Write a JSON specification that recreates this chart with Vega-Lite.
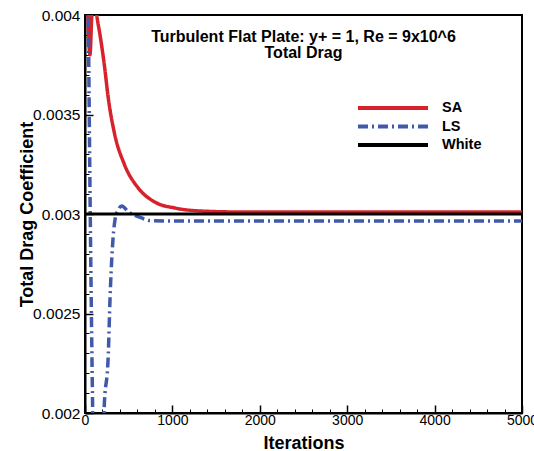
{
  "$schema": "https://vega.github.io/schema/vega-lite/v6.json",
  "width": 437,
  "height": 398,
  "autosize": {"type": "none"},
  "padding": {"left": 85, "top": 15, "right": 12, "bottom": 38},
  "background": "white",
  "config": {
    "view": {"stroke": "black", "strokeWidth": 2},
    "font": "Liberation Sans"
  },
  "title": {
    "text": ["Turbulent Flat Plate: y+ = 1, Re = 9x10^6", "Total Drag"],
    "font": "Liberation Sans",
    "fontSize": 16,
    "fontWeight": "bold",
    "lineHeight": 16,
    "anchor": "middle",
    "frame": "group",
    "baseline": "top",
    "offset": -37,
    "dy": 16,
    "color": "black"
  },
  "data": {
    "values": [
      {"series": "SA", "iter": 0, "cd": 0.005},
      {"series": "SA", "iter": 20, "cd": 0.0044},
      {"series": "SA", "iter": 35, "cd": 0.004},
      {"series": "SA", "iter": 57, "cd": 0.0038},
      {"series": "SA", "iter": 78, "cd": 0.004},
      {"series": "SA", "iter": 100, "cd": 0.00408},
      {"series": "SA", "iter": 118, "cd": 0.00407},
      {"series": "SA", "iter": 135, "cd": 0.004},
      {"series": "SA", "iter": 172, "cd": 0.0039},
      {"series": "SA", "iter": 221, "cd": 0.00375},
      {"series": "SA", "iter": 267, "cd": 0.00358},
      {"series": "SA", "iter": 335, "cd": 0.00341},
      {"series": "SA", "iter": 450, "cd": 0.00325},
      {"series": "SA", "iter": 610, "cd": 0.00313},
      {"series": "SA", "iter": 800, "cd": 0.00306},
      {"series": "SA", "iter": 1030, "cd": 0.00303},
      {"series": "SA", "iter": 1370, "cd": 0.003014},
      {"series": "SA", "iter": 1800, "cd": 0.00301},
      {"series": "SA", "iter": 3000, "cd": 0.00301},
      {"series": "SA", "iter": 5000, "cd": 0.00301},
      {"series": "LS", "iter": 0, "cd": 0.006},
      {"series": "LS", "iter": 20, "cd": 0.0049},
      {"series": "LS", "iter": 38, "cd": 0.004},
      {"series": "LS", "iter": 60, "cd": 0.003},
      {"series": "LS", "iter": 88, "cd": 0.002},
      {"series": "LS", "iter": 115, "cd": 0.0012},
      {"series": "LS", "iter": 150, "cd": 0.0009},
      {"series": "LS", "iter": 190, "cd": 0.0013},
      {"series": "LS", "iter": 217, "cd": 0.002},
      {"series": "LS", "iter": 267, "cd": 0.0023},
      {"series": "LS", "iter": 286, "cd": 0.00257},
      {"series": "LS", "iter": 312, "cd": 0.00282},
      {"series": "LS", "iter": 343, "cd": 0.00297},
      {"series": "LS", "iter": 380, "cd": 0.00302},
      {"series": "LS", "iter": 420, "cd": 0.00304},
      {"series": "LS", "iter": 500, "cd": 0.00301},
      {"series": "LS", "iter": 648, "cd": 0.00298},
      {"series": "LS", "iter": 740, "cd": 0.002967},
      {"series": "LS", "iter": 1000, "cd": 0.002965},
      {"series": "LS", "iter": 3000, "cd": 0.002965},
      {"series": "LS", "iter": 5000, "cd": 0.002965},
      {"series": "White", "iter": 0, "cd": 0.003},
      {"series": "White", "iter": 5000, "cd": 0.003}
    ]
  },
  "encoding": {
    "color": {
      "field": "series",
      "type": "nominal",
      "scale": {"domain": ["SA", "LS", "White"], "range": ["#d7222b", "#4059ab", "#000000"]},
      "legend": {
        "title": null,
        "orient": "none",
        "legendX": 299,
        "legendY": 84,
        "padding": 0,
        "symbolType": "M-5,0H5",
        "symbolSize": 196,
        "symbolStrokeWidth": 4,
        "labelFont": "Liberation Sans",
        "labelFontSize": 14.5,
        "labelFontWeight": "bold",
        "labelColor": "black",
        "labelOffset": 40,
        "rowPadding": 1.5
      }
    },
    "strokeDash": {
      "field": "series",
      "type": "nominal",
      "scale": {"domain": ["SA", "LS", "White"], "range": [[1, 0], [10, 4, 2, 4], [1, 0]]},
      "legend": {
        "title": null,
        "orient": "none",
        "legendX": 299,
        "legendY": 84,
        "padding": 0,
        "symbolType": "M-5,0H5",
        "symbolSize": 196,
        "symbolStrokeWidth": 4,
        "labelFont": "Liberation Sans",
        "labelFontSize": 14.5,
        "labelFontWeight": "bold",
        "labelColor": "black",
        "labelOffset": 40,
        "rowPadding": 1.5
      }
    }
  },
  "layer": [
    {
      "transform": [{"filter": "datum.series !== 'White'"}],
      "mark": {"type": "line", "clip": true, "strokeWidth": 3.5, "interpolate": "monotone"},
      "encoding": {
        "x": {
          "field": "iter",
          "type": "quantitative",
          "scale": {"domain": [0, 5000], "nice": false},
          "axis": {
            "orient": "bottom",
            "values": [0, 1000, 2000, 3000, 4000, 5000],
            "format": "d",
            "grid": false,
            "labelFlush": false,
            "domainColor": "black",
            "domainWidth": 2,
            "tickColor": "black",
            "tickWidth": 1.5,
            "tickSize": -8,
            "labelPadding": 8,
            "labelFont": "Liberation Sans",
            "labelFontSize": 14,
            "labelColor": "black",
            "labelBaseline": "top",
            "title": "Iterations",
            "titleFont": "Liberation Sans",
            "titleFontSize": 18,
            "titleFontWeight": "bold",
            "titleColor": "black",
            "titleBaseline": "middle",
            "titleY": 30
          }
        },
        "y": {
          "field": "cd",
          "type": "quantitative",
          "scale": {"domain": [0.002, 0.004], "nice": false, "zero": false},
          "axis": {
            "orient": "left",
            "values": [0.002, 0.0025, 0.003, 0.0035, 0.004],
            "format": "~g",
            "grid": false,
            "labelFlush": false,
            "domainColor": "black",
            "domainWidth": 2,
            "tickColor": "black",
            "tickWidth": 1.5,
            "tickSize": -8,
            "labelPadding": 13,
            "labelFont": "Liberation Sans",
            "labelFontSize": 15.5,
            "labelColor": "black",
            "title": "Total Drag Coefficient",
            "titleFont": "Liberation Sans",
            "titleFontSize": 18,
            "titleFontWeight": "bold",
            "titleColor": "black",
            "titleBaseline": "middle",
            "titleAlign": "center",
            "titleAngle": -90,
            "titleX": -58,
            "titleY": 199
          }
        }
      }
    },
    {
      "transform": [{"filter": "datum.series === 'White'"}],
      "mark": {"type": "line", "clip": true, "strokeWidth": 3},
      "encoding": {
        "x": {
          "field": "iter",
          "type": "quantitative",
          "axis": {
            "orient": "bottom",
            "values": [200, 400, 600, 800, 1200, 1400, 1600, 1800, 2200, 2400, 2600, 2800, 3200, 3400, 3600, 3800, 4200, 4400, 4600, 4800],
            "labels": false,
            "domain": false,
            "grid": false,
            "tickColor": "black",
            "tickWidth": 1,
            "tickSize": -4,
            "title": null
          }
        },
        "y": {
          "field": "cd",
          "type": "quantitative",
          "axis": {
            "orient": "left",
            "values": [0.0021, 0.0022, 0.0023, 0.0024, 0.0026, 0.0027, 0.0028, 0.0029, 0.0031, 0.0032, 0.0033, 0.0034, 0.0036, 0.0037, 0.0038, 0.0039],
            "labels": false,
            "domain": false,
            "grid": false,
            "tickColor": "black",
            "tickWidth": 1,
            "tickSize": -4,
            "title": null
          }
        }
      }
    }
  ],
  "resolve": {"axis": {"x": "independent", "y": "independent"}}
}
